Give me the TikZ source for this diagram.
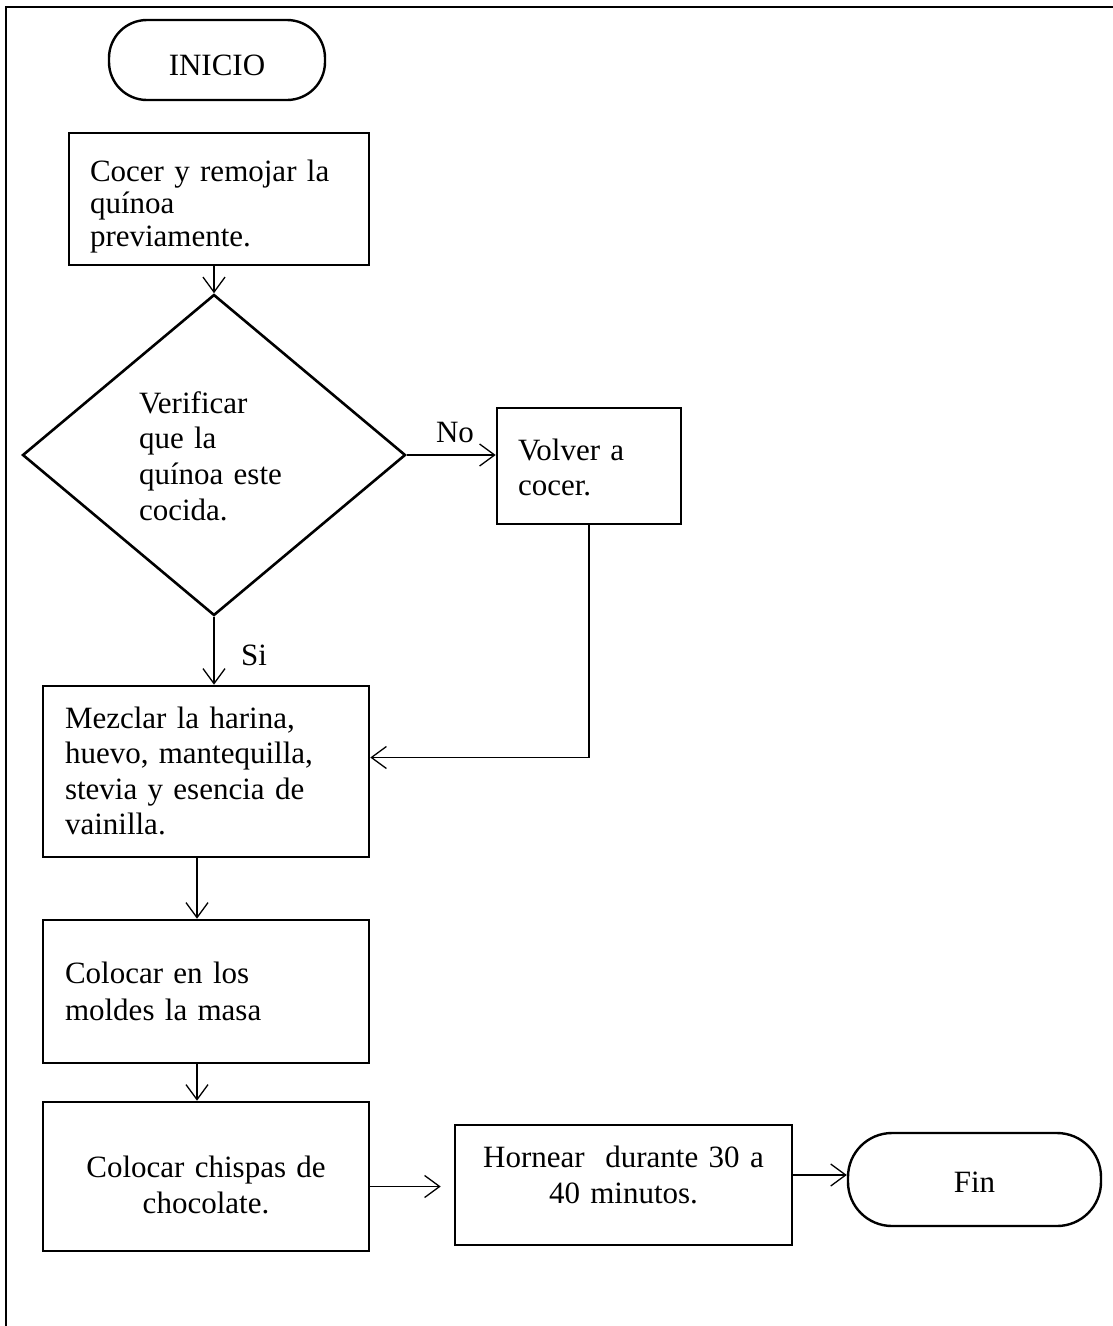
\documentclass[tikz,border=0pt]{standalone}
\usepackage{fontspec}
\setmainfont{Liberation Serif}
\usetikzlibrary{arrows.meta,shapes.geometric,calc}

\tikzset{
  txt/.style={font=\fontsize{31}{36}\selectfont},
  lead/.style={font=\fontsize{31}{#1}\selectfont},
  % text height / depth place the first baseline inside each box
  tpos/.style={text height=22pt, text depth=#1},
  stepbox/.style={txt, draw, line width=2.6pt, rectangle, inner xsep=21pt, inner ysep=0pt, align=left},
  cbox/.style={stepbox, align=center},
  term/.style={txt, draw, line width=2.4pt, rectangle, rounded corners=#1, inner sep=0pt},
  decide/.style={txt, draw, line width=2.6pt, diamond, inner sep=0pt, align=left},
  conn/.style={line width=1.3pt, -{Straight Barb[length=15pt,width=22pt]}},
  frame/.style={line width=2.8pt},
}

\begin{document}
\begin{tikzpicture}[x=1pt, y=-1pt]
  \useasboundingbox (0,0) rectangle (1113,1326);

  % page frame
  \draw[frame] (1113,7) -- (6,7) -- (6,1326);

  % process steps
  \node[term=38pt, minimum width=216pt, minimum height=80pt, text height=30pt, text depth=0pt] (inicio) at (217,60) {INICIO};
  \node[stepbox, lead=32.5, tpos=58pt, minimum width=300pt, minimum height=132pt, text width=258pt] (cocer) at (219,199)
    {Cocer y remojar la\\quínoa\\previamente.};
  \node[decide, lead=35.7, tpos=106pt, text width=150pt, minimum width=383pt, minimum height=321pt] (verif) at (214,455)
    {Verificar\\que la\\quínoa este\\cocida.};
  \node[stepbox, lead=35, tpos=34pt, minimum width=184pt, minimum height=116pt, text width=142pt] (volver) at (589,466)
    {Volver a\\cocer.};
  \node[stepbox, lead=35.5, tpos=109pt, inner xsep=22pt, minimum width=326pt, minimum height=171pt, text width=282pt] (mezclar) at (206,771.5)
    {Mezclar la harina,\\huevo, mantequilla,\\stevia y esencia de\\vainilla.};
  \node[stepbox, lead=37, tpos=39pt, inner xsep=22pt, minimum width=326pt, minimum height=143pt, text width=282pt] (moldes) at (206,991.5)
    {Colocar en los\\moldes la masa};
  \node[cbox, lead=36, tpos=21pt, inner xsep=22pt, minimum width=326pt, minimum height=149pt, text width=282pt] (chispas) at (206,1176.5)
    {Colocar chispas de\\chocolate.};
  \node[cbox, lead=36, tpos=58pt, inner xsep=10pt, minimum width=337pt, minimum height=120pt, text width=317pt] (hornear) at (623.5,1185)
    {Hornear~ durante 30 a\\40 minutos.};
  \node[term=44pt, minimum width=253pt, minimum height=93pt, text height=25pt, text depth=0pt] (fin) at (974.5,1179.5) {Fin};

  % branch labels
  \node[txt] (lno) at (455,432) {No};
  \node[txt] (lsi) at (254,655) {Si};

  % connectors
  \draw[conn] (verif.north |- cocer.south) -- (verif.north);
  \draw[conn] (verif.east) -- (verif.east -| volver.west);
  \draw[conn] (volver.south) |- ([yshift=14pt]mezclar.east);
  \draw[conn] (verif.south) -- (verif.south |- mezclar.north);
  \draw[conn] ([xshift=-9pt]mezclar.south) -- ([xshift=-9pt]moldes.north);
  \draw[conn] ([xshift=-9pt]moldes.south) -- ([xshift=-9pt]chispas.north);
  \coordinate (cx) at ([yshift=-10pt]chispas.east);
  \draw[conn] (cx) -- ($(cx -| hornear.west)+(-13,0)$);
  \draw[conn] ([yshift=10pt]hornear.east) -- ([yshift=10pt]hornear.east -| fin.west);
\end{tikzpicture}
\end{document}
